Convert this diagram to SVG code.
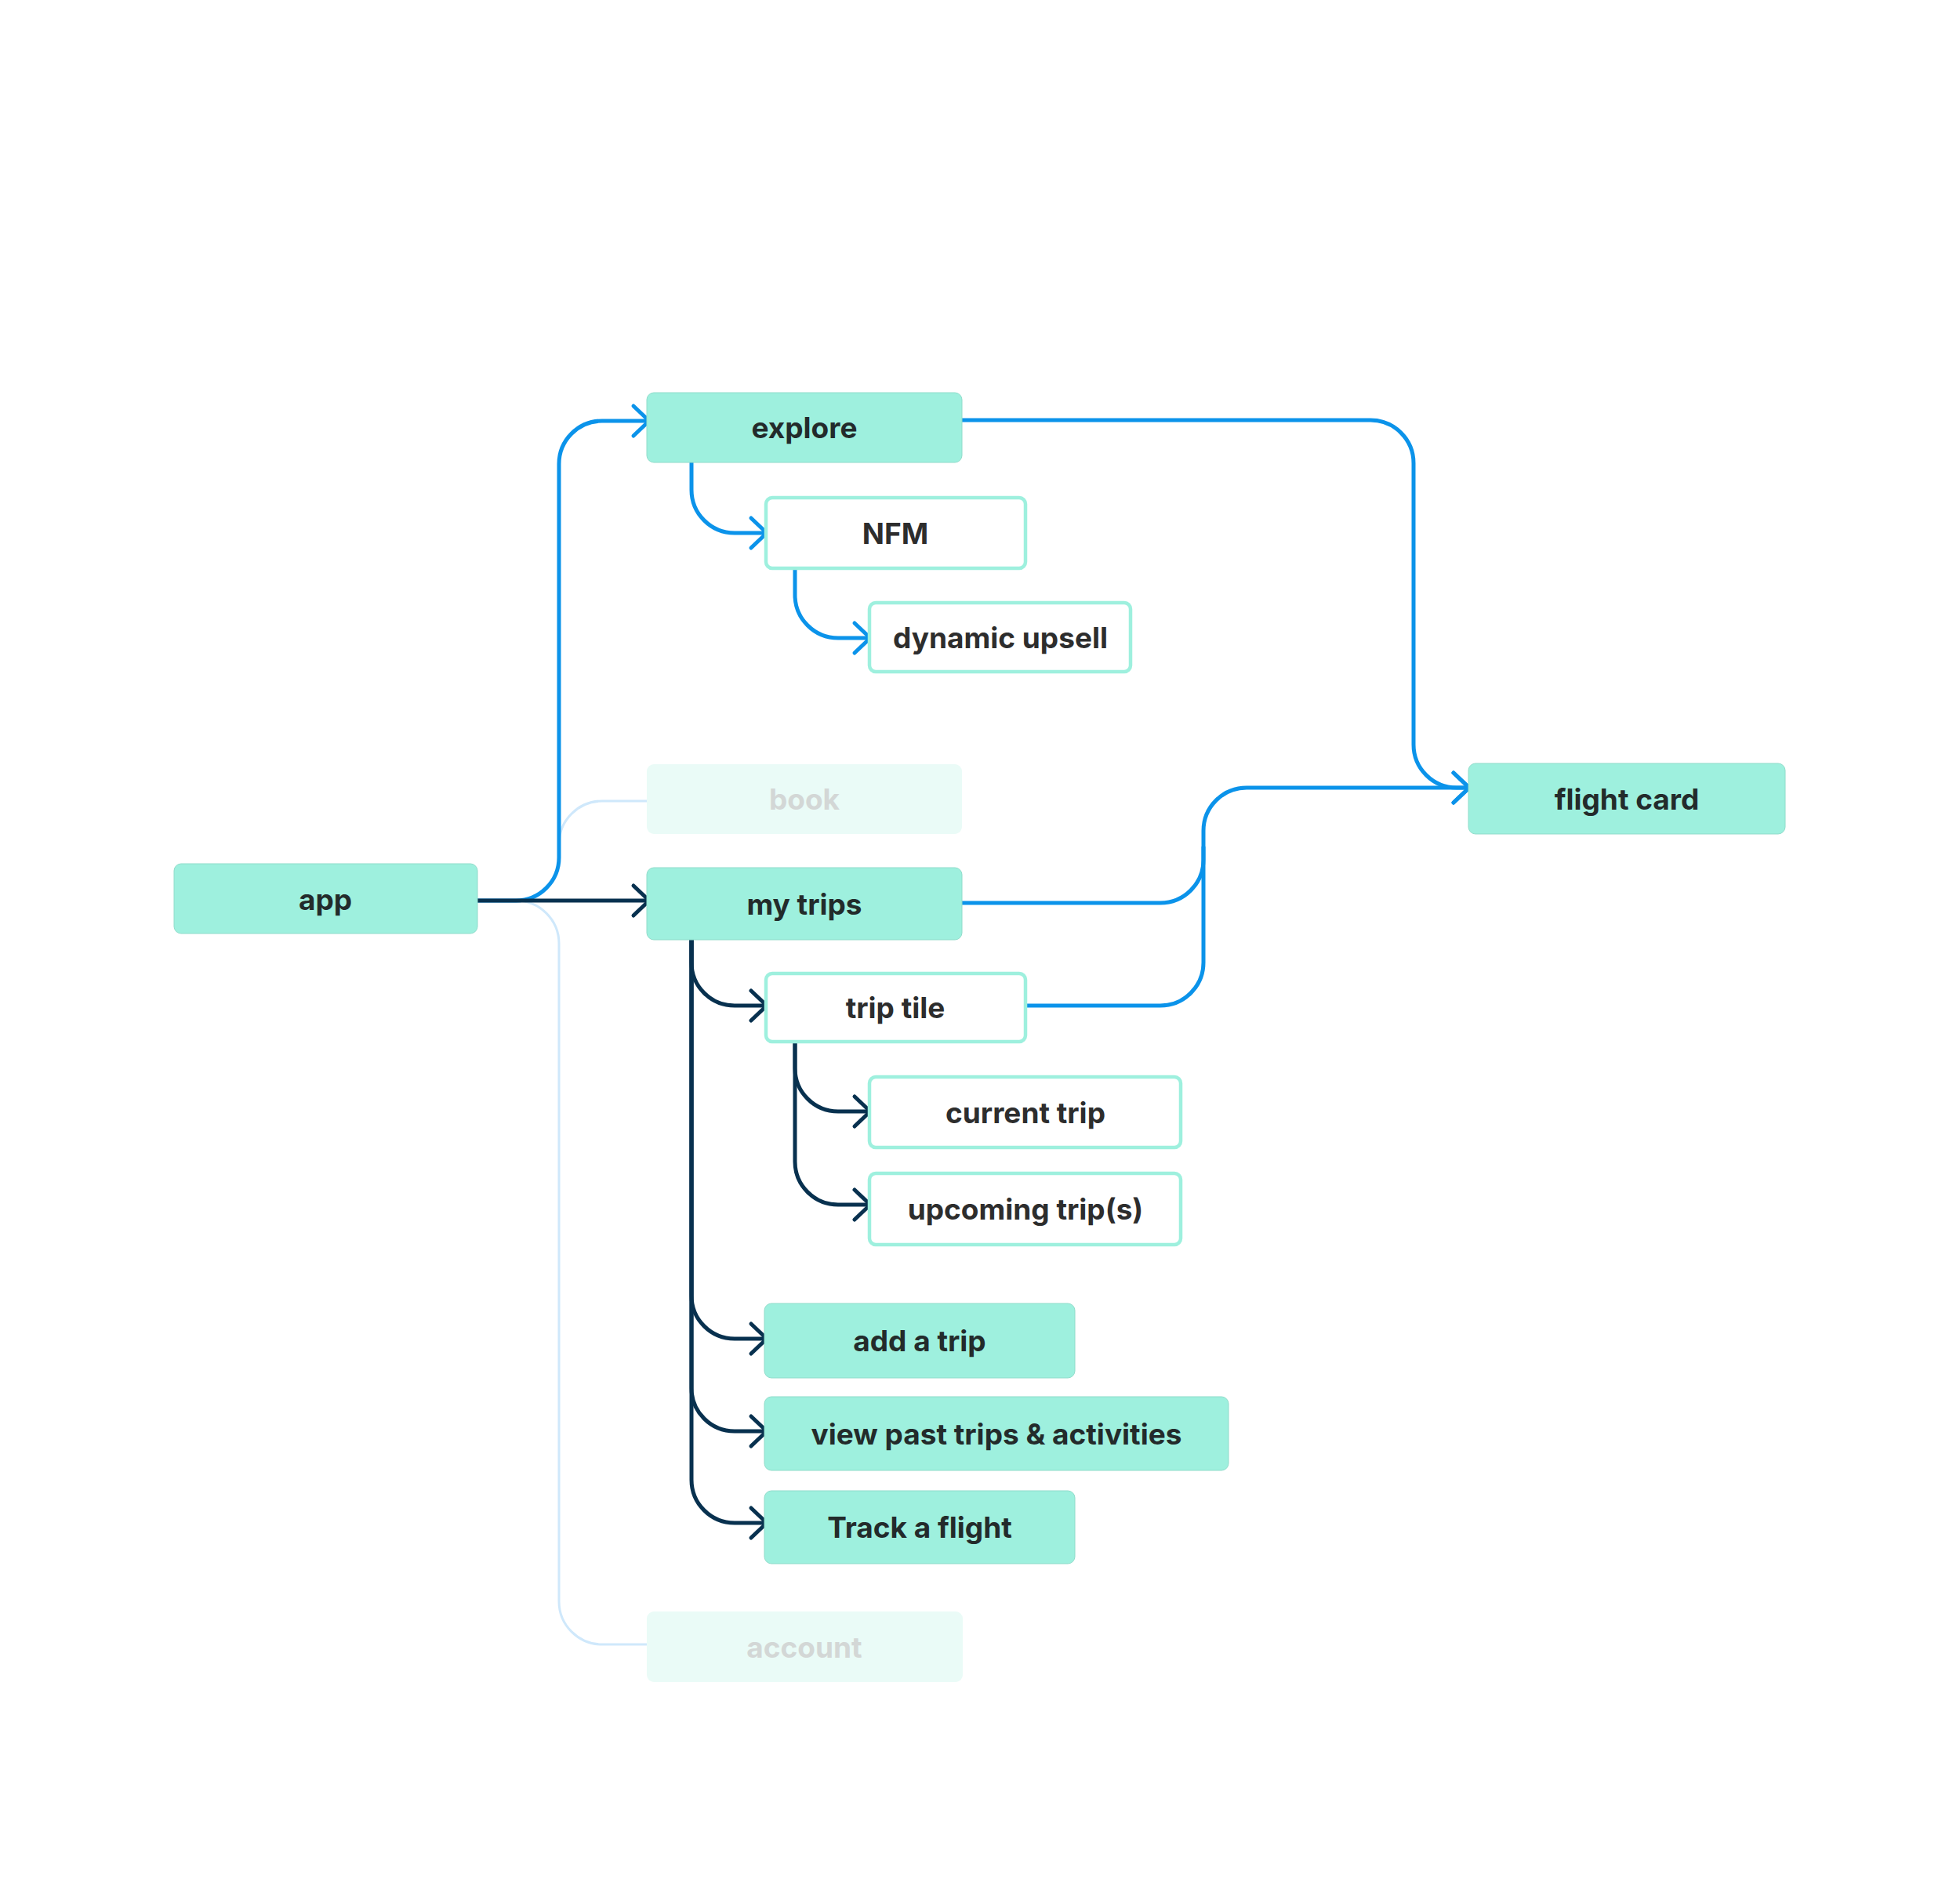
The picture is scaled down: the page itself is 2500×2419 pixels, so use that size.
<svg xmlns="http://www.w3.org/2000/svg" width="2500" height="2419" viewBox="0 0 2500 2419">
<style>
.fill{fill:#9ef0de;stroke:#8fdcca;stroke-width:1}
.outl{fill:#ffffff;stroke:#9ef0de;stroke-width:4.5}
.faint{fill:#eafbf7}
.t{font-family:Inter,"Noto Sans",sans-serif;font-weight:700;font-size:37px;text-anchor:middle;fill:#232b2b}
.t2{fill:#2d2d2d}
.tf{fill:#d3d7d6}
.blue{fill:none;stroke:#0b93ea;stroke-width:5;marker-end:url(#ab)}
.navy{fill:none;stroke:#08314f;stroke-width:5;marker-end:url(#an)}
.light{fill:none;stroke:#cfe8fb;stroke-width:3}
.nm{fill:none;stroke:#0b93ea;stroke-width:5}
</style>
<defs>
<marker id="ab" markerUnits="userSpaceOnUse" markerWidth="34" markerHeight="48" refX="27" refY="24" orient="auto" overflow="visible">
<path d="M7,5 L27,24 L7,43" fill="none" stroke="#0b93ea" stroke-width="5" stroke-linecap="round" stroke-linejoin="round"/>
</marker>
<marker id="an" markerUnits="userSpaceOnUse" markerWidth="34" markerHeight="48" refX="27" refY="24" orient="auto" overflow="visible">
<path d="M7,5 L27,24 L7,43" fill="none" stroke="#08314f" stroke-width="5" stroke-linecap="round" stroke-linejoin="round"/>
</marker>
</defs>
<rect width="2500" height="2419" fill="#ffffff"/>
<g id="connectors">
<path class="light" d="M640,1149 H658 A55,55 0 0 0 713,1094 V1077 A55,55 0 0 1 768,1022 H826"/>
<path class="light" d="M640,1149 H658 A55,55 0 0 1 713,1204 V2043 A55,55 0 0 0 768,2098 H826"/>
<path class="blue" d="M609,1149 H658 A55,55 0 0 0 713,1094 V592 A55,55 0 0 1 768,537 H828"/>
<path class="blue" d="M882,590 V625 A55,55 0 0 0 937,680 H978"/>
<path class="blue" d="M1014,727 V759 A55,55 0 0 0 1069,814 H1110"/>
<path class="blue" d="M1227,536 H1748 A55,55 0 0 1 1803,591 V950 A55,55 0 0 0 1858,1005 H1874"/>
<path class="blue" d="M1227,1152 H1480 A55,55 0 0 0 1535,1097 V1060 A55,55 0 0 1 1590,1005 H1874"/>
<path class="nm" d="M1310,1283 H1480 A55,55 0 0 0 1535,1228 V1080"/>
<path class="navy" d="M609,1149 H828"/>
<path class="navy" d="M882,1199 V1228 A55,55 0 0 0 937,1283 H978"/>
<path class="navy" d="M882,1199 V1653 A55,55 0 0 0 937,1708 H978"/>
<path class="navy" d="M882,1199 V1771 A55,55 0 0 0 937,1826 H978"/>
<path class="navy" d="M882,1199 V1888 A55,55 0 0 0 937,1943 H978"/>
<path class="navy" d="M1014,1331 V1363 A55,55 0 0 0 1069,1418 H1110"/>
<path class="navy" d="M1014,1331 V1482 A55,55 0 0 0 1069,1537 H1110"/>
</g>
<g id="node-app"><rect class="fill" x="222" y="1102" width="387" height="89" rx="9"/><text class="t" x="415" y="1161">app</text></g>
<g id="node-explore"><rect class="fill" x="825" y="501" width="402" height="89" rx="9"/><text class="t" x="1026" y="559">explore</text></g>
<g id="node-nfm"><rect class="outl" x="977" y="635" width="331" height="90" rx="8"/><text class="t t2" x="1142" y="694">NFM</text></g>
<g id="node-dynamic-upsell"><rect class="outl" x="1109" y="769" width="333" height="88" rx="8"/><text class="t t2" x="1276" y="827">dynamic upsell</text></g>
<g id="node-book"><rect class="faint" x="825" y="975" width="402" height="89" rx="9"/><text class="t tf" x="1026" y="1033">book</text></g>
<g id="node-my-trips"><rect class="fill" x="825" y="1107" width="402" height="92" rx="9"/><text class="t" x="1026" y="1167">my trips</text></g>
<g id="node-trip-tile"><rect class="outl" x="977" y="1242" width="331" height="87" rx="8"/><text class="t t2" x="1142" y="1299">trip tile</text></g>
<g id="node-current-trip"><rect class="outl" x="1109" y="1374" width="397" height="90" rx="8"/><text class="t t2" x="1308" y="1433">current trip</text></g>
<g id="node-upcoming-trips"><rect class="outl" x="1109" y="1497" width="397" height="91" rx="8"/><text class="t t2" x="1308" y="1556">upcoming trip(s)</text></g>
<g id="node-add-a-trip"><rect class="fill" x="975" y="1663" width="396" height="95" rx="9"/><text class="t" x="1173" y="1724">add a trip</text></g>
<g id="node-view-past"><rect class="fill" x="975" y="1782" width="592" height="94" rx="9"/><text class="t" x="1271" y="1843">view past trips &amp; activities</text></g>
<g id="node-track-flight"><rect class="fill" x="975" y="1902" width="396" height="93" rx="9"/><text class="t" x="1173" y="1962">Track a flight</text></g>
<g id="node-account"><rect class="faint" x="825" y="2056" width="403" height="90" rx="9"/><text class="t tf" x="1026" y="2115">account</text></g>
<g id="node-flight-card"><rect class="fill" x="1873" y="974" width="404" height="90" rx="9"/><text class="t" x="2075" y="1033">flight card</text></g>
</svg>
